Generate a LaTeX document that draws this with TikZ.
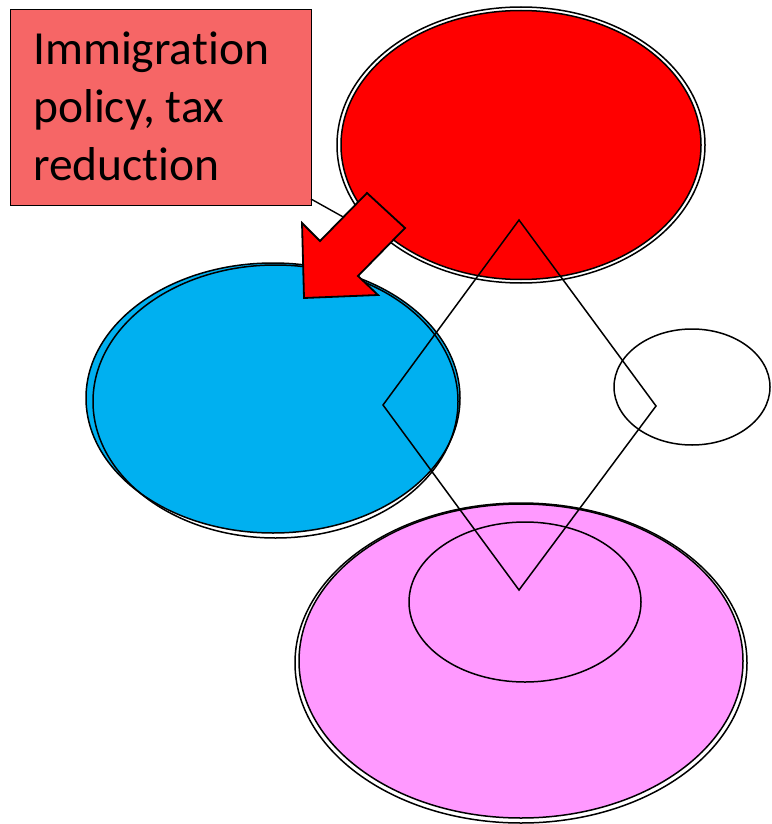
\documentclass[tikz,border=0pt]{standalone}
\usepackage{fontspec}
\setmainfont{Carlito}[Ligatures=CommonOff]
\usetikzlibrary{positioning}
\definecolor{PolicyRed}{RGB}{246,102,102}
\definecolor{BlobRed}{RGB}{255,0,0}
\definecolor{BlobBlue}{RGB}{0,176,240}
\definecolor{BlobPink}{RGB}{255,153,255}

\begin{document}
\begin{tikzpicture}[x=1pt,y=-1pt,
		outline/.style={draw=black, line width=1.5pt},
		blob/.style={outline, fill=#1}]
			\useasboundingbox (0,0) rectangle (771,824);
			\coordinate(RedPos) at (521,145);
			\coordinate(BluePos) at (273,398);
			\coordinate(BlueEdgePos) at (275.5,401.5);
			\coordinate(PinkPos) at (521,661);
			\coordinate(PinkEdgePos) at (521,663);
			\coordinate(CorePos) at (525,602);
			\coordinate(SidePos) at (692,387);
			\coordinate(TopPos) at (519,220);
			\coordinate(RightPos) at (656,406);
			\coordinate(BottomPos) at (519,590);
			\coordinate(LeftPos) at (383,405);
			\coordinate(CalloutStart) at (311,199);
			\coordinate(CalloutEnd) at (345,218);
			
			% LABEL
			\node (PolicyBox) [draw=black, line width=1.2pt, fill=PolicyRed, minimum width=301, minimum height=196, anchor=north west, inner sep=0] at (10,9) {};
			\node (PolicyText) [anchor=base west, align=left, inner sep=0, font=\fontsize{47.5}{58}\selectfont] at (33,180) {Immigration\\policy, tax\\reduction};
			\draw[line width=1.4pt] (CalloutStart) -- (CalloutEnd);
			
			% RED
			\draw[outline] (RedPos) ellipse [x radius=184, y radius=138];
			\draw[blob=BlobRed] (RedPos) ellipse [x radius=180, y radius=134.5];
			
			% BLUE
			\draw[blob=BlobBlue] (BluePos) ellipse [x radius=187, y radius=135];
			\draw[outline] (BlueEdgePos) ellipse [x radius=182.5, y radius=136.5];
			
			% PINK
			\draw[outline] (PinkEdgePos) ellipse [x radius=226, y radius=160];
			\draw[blob=BlobPink] (PinkPos) ellipse [x radius=222, y radius=157];
			\draw[outline] (CorePos) ellipse [x radius=116, y radius=80];
			
			% SIDE
			\draw[outline] (SidePos) ellipse [x radius=78, y radius=58];
			
			% DIAMOND
			\draw[line width=1.5pt] (TopPos) -- (RightPos) -- (BottomPos) -- (LeftPos) -- cycle;
			
			% ARROW
			\filldraw[fill=BlobRed, draw=black, line width=1.8pt, line join=miter] (302,223) -- (320,241) -- (367,193) -- (405,228) -- (358,276) -- (378,295) -- (304,298) -- cycle;
		\end{tikzpicture}
\end{document}
